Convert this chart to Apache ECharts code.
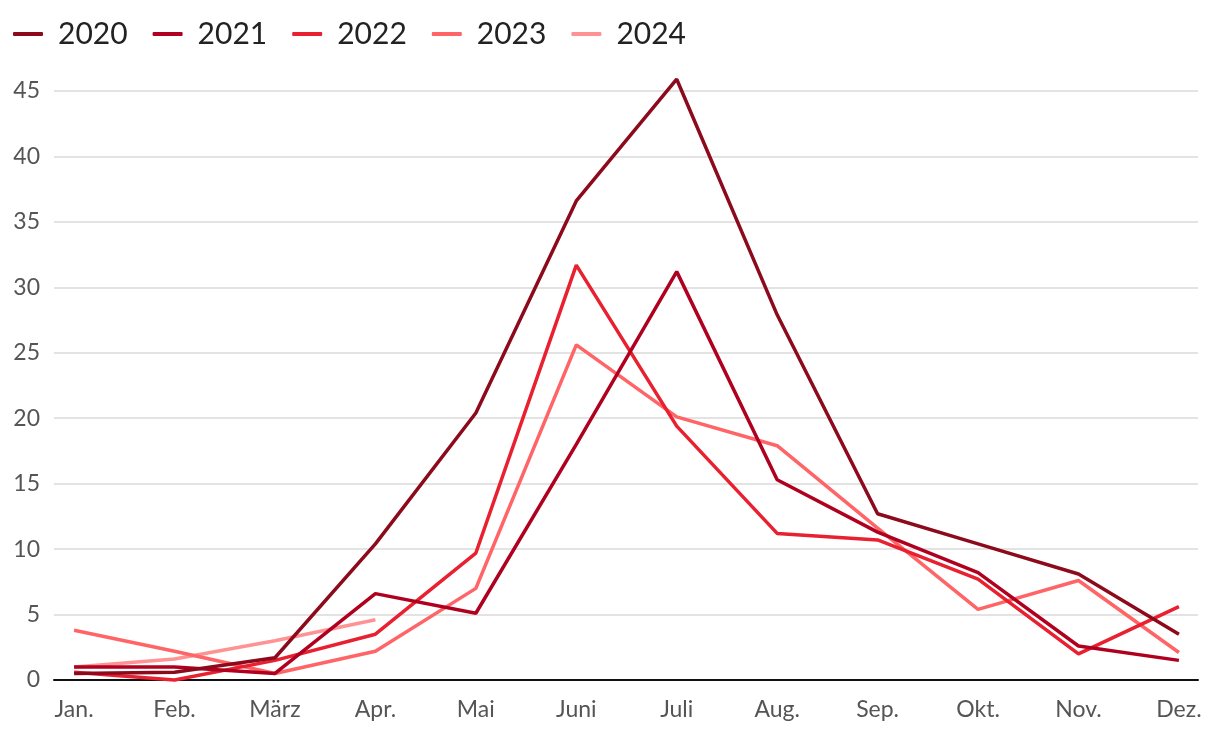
<!DOCTYPE html>
<html><head><meta charset="utf-8">
<script src="https://cdn.jsdelivr.net/npm/echarts@6/dist/echarts.min.js"></script>
<style>html,body{margin:0;padding:0;background:#fff}#c{width:1220px;height:738px}</style>
</head><body><div id="c"></div>
<script>
const months = ['Jan.','Feb.','März','Apr.','Mai','Juni','Juli','Aug.','Sep.','Okt.','Nov.','Dez.'];
const years = ['2020','2021','2022','2023','2024'];
const colors = ['#8c0a1c','#b0001f','#e8202f','#ff6466','#ff9393'];
const v2020 = [0.5,0.6,1.7,10.4,20.4,36.6,45.9,27.9,12.7,10.4,8.1,3.5];
const v2021 = [1.0,1.0,0.5,6.6,5.1,18.0,31.2,15.3,11.3,8.2,2.6,1.5];
const v2022 = [0.6,0.0,1.5,3.5,9.7,31.7,19.4,11.2,10.7,7.7,2.0,5.6];
const v2023 = [3.8,2.2,0.5,2.2,7.0,25.6,20.1,17.9,11.6,5.4,7.6,2.1];
const v2024 = [1.0,1.6,3.0,4.6];
const seriesData = [v2020,v2021,v2022,v2023,v2024];
const yTicks = {min:0,max:45,interval:5};
const monthIdx = months.map((m,i)=>i);

const font = 'Lato, "Noto Sans", sans-serif';
const chart = echarts.init(document.getElementById('c'));
chart.setOption({
  animation:false,
  color: colors,
  legend:{
    left: 8, top: 14,
    icon: 'roundRect', itemWidth: 30, itemHeight: 4, itemGap: 25,
    textStyle:{fontFamily:font, fontSize:30, color:'#222', padding:[0,0,0,10]},
    data: years
  },
  grid:{left:54, right:22, top:91, bottom:58},
  xAxis:{
    type:'value', min:-0.2, max:11.19,
    axisLine:{onZero:false, lineStyle:{color:'#111', width:2}},
    axisTick:{show:false},
    axisLabel:{fontFamily:font, fontSize:23, color:'#555', margin:18,
      customValues: monthIdx, showMinLabel:true, showMaxLabel:true,
      formatter:(v)=>months[Math.round(v)] || ''},
    splitLine:{show:false}
  },
  yAxis:{
    type:'value', min:yTicks.min, max:yTicks.max, interval:yTicks.interval,
    axisLine:{show:false}, axisTick:{show:false},
    axisLabel:{fontFamily:font, fontSize:23, color:'#555', margin:14},
    splitLine:{lineStyle:{color:'#e3e3e3', width:2}}
  },
  series: years.map((y,i)=>({
    name:y, type:'line', data: seriesData[i].map((v,j)=>[monthIdx[j], v]),
    showSymbol:false, symbol:'none',
    clip:false, lineStyle:{width:3.5, color:colors[i]}, itemStyle:{color:colors[i]}, z: 10-i
  }))
});
</script></body></html>
